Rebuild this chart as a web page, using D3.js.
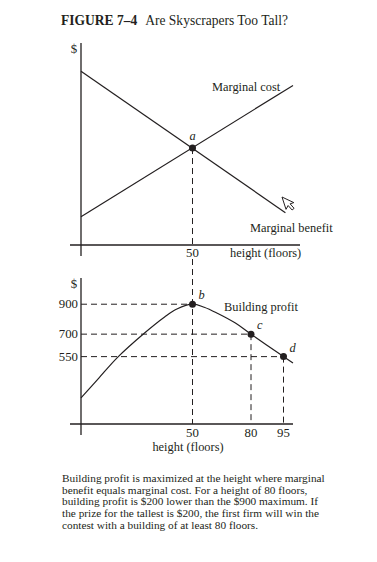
<!DOCTYPE html>
<html>
<head>
<meta charset="utf-8">
<script src="https://cdn.jsdelivr.net/npm/d3@7"></script>
<style>
  body { margin: 0; background: #fff; }
  svg text { font-family: "Liberation Serif", "Times New Roman", serif; fill: #231f20; }
</style>
</head>
<body>
<svg id="chart" width="377" height="562"></svg>
<script>
// top panel: marginal benefit / marginal cost (schematic $ units)
const mbFloors = [0, 96];
const mbValues = [86, 16];
const mcFloors = [0, 100];
const mcValues = [14, 79];
const pointA = { floor: 50, value: 48, label: "a" };

// bottom panel: building profit
const profitFloors = [0, 8, 16.5, 28.5, 37.5, 43, 50, 56, 63, 72, 80, 95, 100];
const profitValues = [274, 407, 547, 708, 815, 868, 900, 880, 838, 774, 700, 550, 507];
const profitPoints = [
  { floor: 50, value: 900, label: "b" },
  { floor: 80, value: 700, label: "c" },
  { floor: 95, value: 550, label: "d" }
];
const yTicks = [900, 700, 550];
const xTicksBottom = [50, 80, 95];
const xTicksTop = [50];

const caption = [
  "Building profit is maximized at the height where marginal",
  "benefit equals marginal cost. For a height of 80 floors,",
  "building profit is $200 lower than the $900 maximum. If",
  "the prize for the tallest is $200, the first firm will win the",
  "contest with a building of at least 80 floors."
];

const ink = "#231f20";
const labelSize = "12.4px";
const numSize = "12.8px";
const svg = d3.select("#chart");

// schematic x axis (floors), not drawn to scale in the original
const x = d3.scaleLinear()
  .domain([0, 50, 80, 95, 100])
  .range([81, 192.5, 251, 283.5, 293]);

const yTop = d3.scaleLinear().domain([0, 100]).range([245, 43]);
const yBot = d3.scaleLinear().domain([100, 1075]).range([424, 278]);

// title, sized so it spans the same width as the printed one
const title = svg.append("text")
  .attr("x", 61).attr("y", 25)
  .style("font-size", "14px");
title.append("tspan").style("font-weight", "bold").text("FIGURE 7\u20134");
title.append("tspan").attr("dx", 8).text("Are Skyscrapers Too Tall?");
const tw = title.node().getComputedTextLength() + 8;
title.style("font-size", (14 * 227 / tw) + "px");

function axesFrame(g, yScale, xEnd) {
  const y0 = yScale.range()[0];
  const yTopEnd = yScale.range()[1];
  g.append("line")
    .attr("x1", x(0)).attr("x2", x(0))
    .attr("y1", yTopEnd).attr("y2", y0 + 11)
    .attr("stroke", ink).attr("stroke-width", 1.3);
  g.append("line")
    .attr("x1", x(0) - 11).attr("x2", xEnd)
    .attr("y1", y0).attr("y2", y0)
    .attr("stroke", ink).attr("stroke-width", 1.3);
  g.append("text")
    .attr("x", x(0) - 7).attr("y", yTopEnd + 10)
    .attr("text-anchor", "middle")
    .style("font-size", numSize)
    .text("$");
}

function dashed(g, x1, y1, x2, y2) {
  g.append("line")
    .attr("x1", x1).attr("y1", y1).attr("x2", x2).attr("y2", y2)
    .attr("stroke", ink).attr("stroke-width", 1)
    .attr("stroke-dasharray", "6,4");
}

const line = (xs, ys, yScale) => d3.line()
  .x((d, i) => x(xs[i]))
  .y((d, i) => yScale(ys[i]))(xs);

// ---------- top panel ----------
const upper = svg.append("g");
axesFrame(upper, yTop, 300);

dashed(upper, x(pointA.floor), yTop(pointA.value), x(pointA.floor), yTop(0));

upper.append("path")
  .attr("d", line(mbFloors, mbValues, yTop))
  .attr("fill", "none").attr("stroke", ink).attr("stroke-width", 1.2);
upper.append("path")
  .attr("d", line(mcFloors, mcValues, yTop))
  .attr("fill", "none").attr("stroke", ink).attr("stroke-width", 1.2);

upper.append("circle")
  .attr("cx", x(pointA.floor)).attr("cy", yTop(pointA.value))
  .attr("r", 3.5).attr("fill", ink);
upper.append("text")
  .attr("x", x(pointA.floor)).attr("y", yTop(pointA.value) - 8)
  .attr("text-anchor", "middle")
  .style("font-size", labelSize).style("font-style", "italic")
  .text(pointA.label);

upper.append("text").attr("x", 212).attr("y", 91)
  .style("font-size", labelSize).text("Marginal cost");
upper.append("text").attr("x", 250).attr("y", 232)
  .style("font-size", labelSize).text("Marginal benefit");
upper.append("text").attr("x", 230).attr("y", 257)
  .style("font-size", labelSize).text("height (floors)");

upper.selectAll(".xt").data(xTicksTop).enter().append("text")
  .attr("x", d => x(d)).attr("y", 257)
  .attr("text-anchor", "middle")
  .style("font-size", numSize).text(d => d);

// mouse cursor artefact on the marginal benefit line
upper.append("path")
  .attr("d", "M0,0 L0,13 L3.2,10 L5.6,15.5 L8,14.5 L5.6,9 L9.5,9 Z")
  .attr("transform", "translate(282,197) rotate(-18)")
  .attr("fill", "#fff").attr("stroke", ink).attr("stroke-width", 0.9);

// ---------- bottom panel ----------
const lower = svg.append("g");
axesFrame(lower, yBot, 293);

// continuation of the dashed line at 50 floors
dashed(lower, x(50), 259, x(50), yBot.range()[0]);

profitPoints.forEach(p => {
  dashed(lower, x(0), yBot(p.value), x(p.floor), yBot(p.value));
  if (p.floor !== 50) dashed(lower, x(p.floor), yBot(p.value), x(p.floor), yBot.range()[0]);
});

lower.append("path")
  .attr("d", d3.line()
    .x((d, i) => x(profitFloors[i]))
    .y((d, i) => yBot(profitValues[i]))
    .curve(d3.curveCatmullRom.alpha(0.5))(profitFloors))
  .attr("fill", "none").attr("stroke", ink).attr("stroke-width", 1.2);

lower.selectAll(".pt").data(profitPoints).enter().append("circle")
  .attr("cx", d => x(d.floor)).attr("cy", d => yBot(d.value))
  .attr("r", 3.5).attr("fill", ink);
lower.selectAll(".pl").data(profitPoints).enter().append("text")
  .attr("x", d => x(d.floor) + 6).attr("y", d => yBot(d.value) - 5)
  .style("font-size", labelSize).style("font-style", "italic")
  .text(d => d.label);

lower.selectAll(".yt").data(yTicks).enter().append("text")
  .attr("x", x(0) - 3).attr("y", d => yBot(d) + 4)
  .attr("text-anchor", "end")
  .style("font-size", numSize).text(d => d);

lower.selectAll(".xtb").data(xTicksBottom).enter().append("text")
  .attr("x", d => x(d)).attr("y", 437)
  .attr("text-anchor", "middle")
  .style("font-size", numSize).text(d => d);

lower.append("text").attr("x", 188).attr("y", 451)
  .attr("text-anchor", "middle")
  .style("font-size", labelSize).text("height (floors)");

lower.append("text").attr("x", 224).attr("y", 311)
  .style("font-size", labelSize).text("Building profit");

// caption, sized so its first line matches the printed width
const capG = svg.append("g").style("font-size", "11px");
const capLines = capG.selectAll("text").data(caption).enter().append("text")
  .attr("x", 62).attr("y", (d, i) => 482 + i * 11.7)
  .text(d => d);
const cw = capLines.node().getComputedTextLength();
capG.style("font-size", (11 * 263 / cw) + "px");
</script>
</body>
</html>
